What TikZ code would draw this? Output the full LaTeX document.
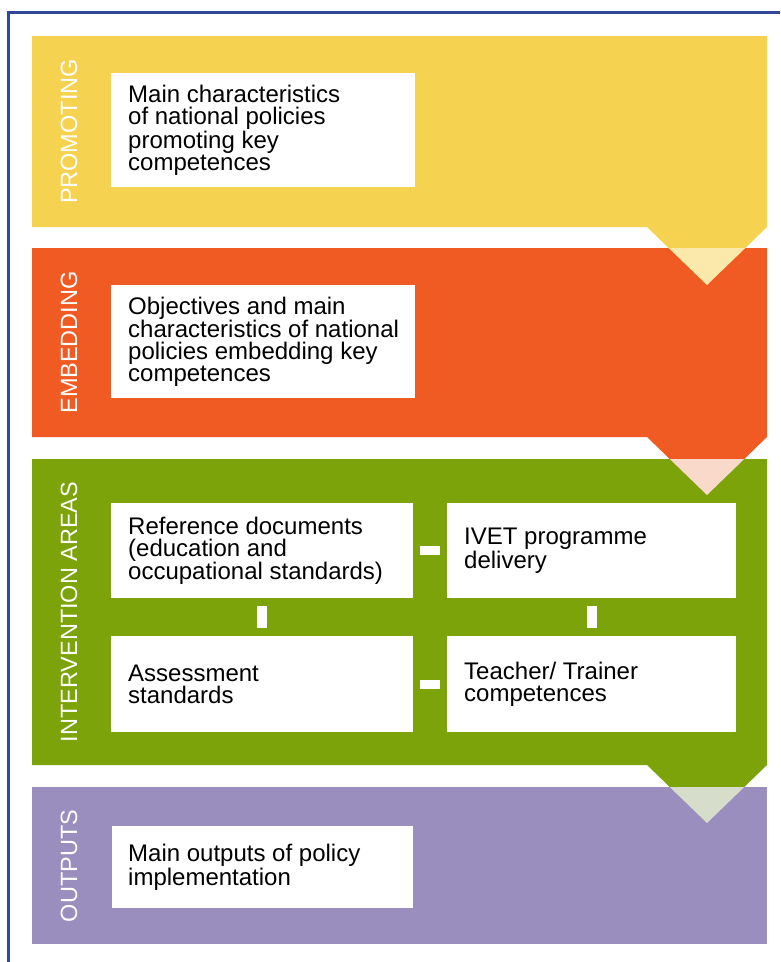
\documentclass[tikz,border=0pt]{standalone}
\usepackage{fontspec}
\setmainfont{Liberation Sans}
\definecolor{cYellow}{RGB}{245,211,80}
\definecolor{cYellowPale}{RGB}{251,233,172}
\definecolor{cOrange}{RGB}{239,91,34}
\definecolor{cOrangePale}{RGB}{249,217,201}
\definecolor{cGreen}{RGB}{124,163,10}
\definecolor{cGreenPale}{RGB}{214,221,203}
\definecolor{cPurple}{RGB}{154,142,190}
\definecolor{cFrame}{RGB}{52,72,155}
\begin{document}
\begin{tikzpicture}[x=1pt,y=-1pt,
  wbox/.style={fill=white, draw=none, inner sep=0pt, anchor=north west},
  txt/.style={anchor=west, align=left, inner sep=0pt, font=\fontsize{24}{22}\selectfont, text=black},
  side/.style={rotate=90, text=white, inner sep=0pt, font=\fontsize{23.5}{26}\selectfont},
  hbar/.style={draw=white, line width=9pt, shorten <=7pt, shorten >=7pt},
  vbar/.style={draw=white, line width=10pt, shorten <=8pt, shorten >=8pt},
  frame/.style={draw=cFrame, line width=3pt}
]
\useasboundingbox (0,0) rectangle (780,962);
\fill[white] (0,0) rectangle (780,962);
\draw[frame] (8,962) -- (8,12) -- (780,12);

% bands
\fill[cYellow] (32,36) -- (767,36) -- (767,227) -- (707,285) -- (647,227) -- (32,227) -- cycle;
\fill[cOrange] (32,248) -- (767,248) -- (767,437) -- (707,495) -- (647,437) -- (32,437) -- cycle;
\begin{scope}
  \clip (32,248) rectangle (767,437);
  \fill[cYellowPale] (767,227) -- (707,285) -- (647,227) -- cycle;
\end{scope}
\fill[cGreen] (32,459) -- (767,459) -- (767,765) -- (707,823) -- (647,765) -- (32,765) -- cycle;
\begin{scope}
  \clip (32,459) rectangle (767,765);
  \fill[cOrangePale] (767,437) -- (707,495) -- (647,437) -- cycle;
\end{scope}
\fill[cPurple] (32,787) rectangle (767,944);
\begin{scope}
  \clip (32,787) rectangle (767,944);
  \fill[cGreenPale] (767,765) -- (707,823) -- (647,765) -- cycle;
\end{scope}

% side labels
\node[side] (lp) at (69,131.5) {PROMOTING};
\node[side] (le) at (69,342.5) {EMBEDDING};
\node[side] (li) at (69,612) {INTERVENTION AREAS};
\node[side] (lo) at (69,866) {OUTPUTS};

% boxes
\node[wbox, minimum width=304, minimum height=114] (b1) at (111,73) {};
\node[txt] (t1) at ([xshift=17pt]b1.west) {Main characteristics\\of national policies\\promoting key\\competences};

\node[wbox, minimum width=304, minimum height=113] (b2) at (111,285) {};
\node[txt] (t2) at ([xshift=17pt]b2.west) {Objectives and main\\characteristics of national\\policies embedding key\\competences};

\node[wbox, minimum width=302, minimum height=95] (b3) at (111,503) {};
\node[txt] (t3) at ([xshift=17pt]b3.west) {Reference documents\\(education and\\occupational standards)};

\node[wbox, minimum width=289, minimum height=95] (b4) at (447,503) {};
\node[txt] (t4) at ([xshift=17pt]b4.west) {IVET programme\\delivery};

\node[wbox, minimum width=302, minimum height=96] (b5) at (111,636) {};
\node[txt] (t5) at ([xshift=17pt]b5.west) {Assessment\\standards};

\node[wbox, minimum width=289, minimum height=96] (b6) at (447,636) {};
\node[txt] (t6) at ([xshift=17pt]b6.west) {Teacher/ Trainer\\competences};

\node[wbox, minimum width=301, minimum height=82] (b7) at (112,826) {};
\node[txt] (t7) at ([xshift=16pt]b7.west) {Main outputs of policy\\implementation};

% connectors
\draw[hbar] (b3.east) -- (b4.west);
\draw[hbar] (b5.east) -- (b6.west);
\draw[vbar] (b3.south) -- (b5.north);
\draw[vbar] (b4.south) -- (b6.north);
\end{tikzpicture}
\end{document}
